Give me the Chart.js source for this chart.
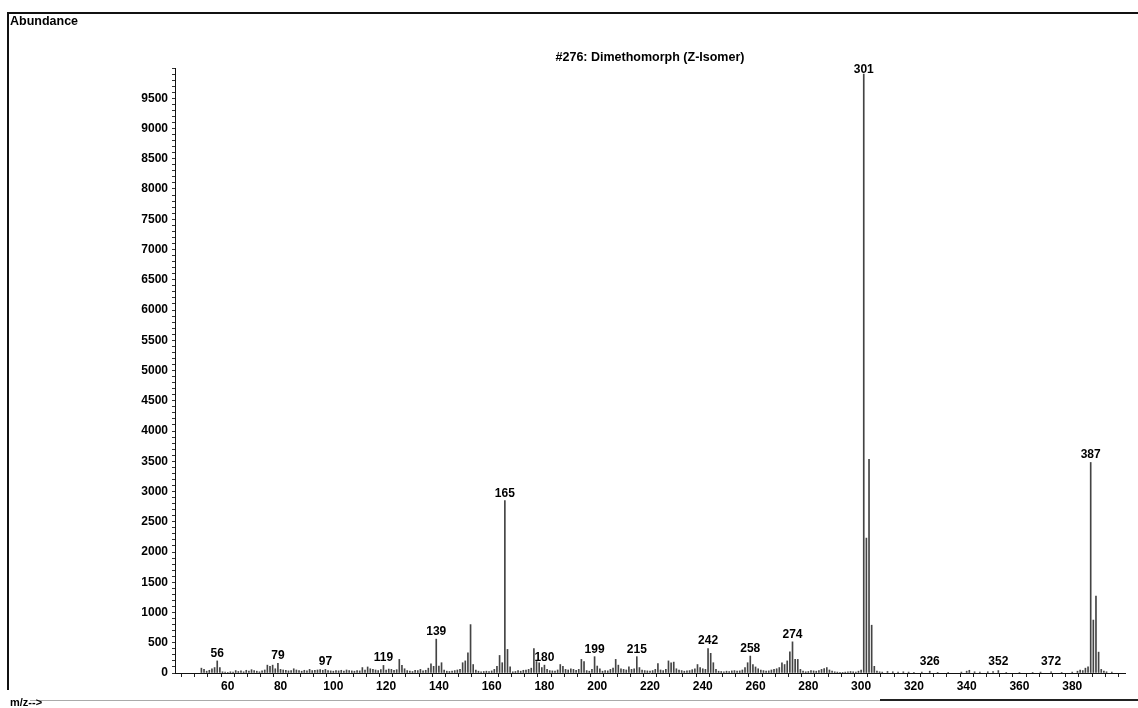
<!DOCTYPE html>
<html>
<head>
<meta charset="utf-8">
<script src="https://cdn.jsdelivr.net/npm/chart.js@4.4.1/dist/chart.umd.min.js"></script>
<style>
  html, body { margin: 0; padding: 0; background: #fff; }
  canvas { display: block; }
</style>
</head>
<body>
<canvas id="spectrum" width="1138" height="708"></canvas>
<script>
// m/z values and abundances
const mz = [
  50,51,52,53,54,55,56,57,58,59,
  60,61,62,63,64,65,66,67,68,69,
  70,71,72,73,74,75,76,77,78,79,
  80,81,82,83,84,85,86,87,88,89,
  90,91,92,93,94,95,96,97,98,99,
  100,101,102,103,104,105,106,107,108,109,
  110,111,112,113,114,115,116,117,118,119,
  120,121,122,123,124,125,126,127,128,129,
  130,131,132,133,134,135,136,137,138,139,
  140,141,142,143,144,145,146,147,148,149,
  150,151,152,153,154,155,156,157,158,159,
  160,161,162,163,164,165,166,167,168,169,
  170,171,172,173,174,175,176,177,178,179,
  180,181,182,183,184,185,186,187,188,189,
  190,191,192,193,194,195,196,197,198,199,
  200,201,202,203,204,205,206,207,208,209,
  210,211,212,213,214,215,216,217,218,219,
  220,221,222,223,224,225,226,227,228,229,
  230,231,232,233,234,235,236,237,238,239,
  240,241,242,243,244,245,246,247,248,249,
  250,251,252,253,254,255,256,257,258,259,
  260,261,262,263,264,265,266,267,268,269,
  270,271,272,273,274,275,276,277,278,279,
  280,281,282,283,284,285,286,287,288,289,
  290,291,292,293,294,295,296,297,298,299,
  300,301,302,303,304,305,306,
  307,308,310,312,314,316,318,320,323,326,
  329,333,338,340,341,343,345,348,350,352,
  355,360,365,368,372,376,380,382,383,384,
  385,386,387,388,389,390,391,392,393,395
];
const abundance = [
  80,60,30,45,70,90,200,90,20,15,
  10,20,15,40,25,35,20,45,30,55,
  40,30,20,35,50,130,110,130,70,160,
  60,50,45,35,40,70,50,40,30,45,
  35,60,40,45,50,55,45,60,40,35,
  30,40,35,45,30,50,40,35,30,40,
  35,90,50,100,70,60,50,40,55,125,
  50,65,60,45,55,225,125,70,40,30,
  25,45,40,60,35,45,80,150,110,560,
  115,170,50,30,25,30,40,50,60,170,
  200,335,800,140,50,30,20,25,30,25,
  35,60,110,290,170,2850,390,100,20,25,
  40,30,45,50,60,80,405,190,170,90,
  130,60,40,35,30,50,140,110,60,50,
  70,60,45,60,225,190,40,30,60,270,
  115,70,30,40,35,60,80,225,130,70,
  60,50,100,60,70,270,90,50,40,35,
  30,40,60,155,50,40,60,200,170,180,
  70,50,40,30,35,40,55,70,140,90,
  70,60,405,325,170,60,30,25,20,30,
  25,35,40,30,35,50,90,170,280,140,
  100,70,50,40,30,35,50,60,70,90,
  170,140,200,350,515,225,225,60,30,20,
  25,40,35,30,40,60,75,90,50,30,
  20,15,10,10,15,20,25,20,15,30,
  50,9900,2230,3530,790,110,30,
  20,15,25,20,15,20,15,10,15,30,
  10,10,15,30,45,20,15,20,25,40,
  10,10,10,15,20,10,15,30,50,40,
  80,100,3480,875,1270,345,60,30,20,15
];
const labelledPeaks = [56, 79, 97, 119, 139, 165, 180, 199, 215, 242, 258, 274, 301, 326, 352, 372, 387];

const titleText = '#276: Dimethomorph (Z-Isomer)';
const fontFamily = '"Liberation Sans", Arial, sans-serif';
const boldFont = 'bold 12px ' + fontFamily;

// frame, captions and peak labels
const decorations = {
  id: 'decorations',
  afterDraw(chart) {
    const { ctx, chartArea, scales } = chart;
    ctx.save();
    // page frame
    ctx.strokeStyle = '#111';
    ctx.lineWidth = 2;
    ctx.beginPath();
    ctx.moveTo(8, 690);
    ctx.lineTo(8, 13);
    ctx.lineTo(1138, 13);
    ctx.stroke();
    ctx.lineWidth = 1;
    ctx.strokeStyle = '#aaa';
    ctx.beginPath();
    ctx.moveTo(30, 700.5);
    ctx.lineTo(880, 700.5);
    ctx.stroke();
    ctx.strokeStyle = '#222';
    ctx.lineWidth = 2;
    ctx.beginPath();
    ctx.moveTo(880, 700);
    ctx.lineTo(1138, 700);
    ctx.stroke();

    ctx.fillStyle = '#000';
    ctx.font = 'bold 12.5px ' + fontFamily;
    ctx.textAlign = 'left';
    ctx.textBaseline = 'middle';
    ctx.fillText('Abundance', 10, 22);
    ctx.font = 'bold 11px ' + fontFamily;
    ctx.fillText('m/z-->', 10, 703);

    ctx.font = 'bold 12.5px ' + fontFamily;
    ctx.textAlign = 'center';
    ctx.fillText(titleText, (chartArea.left + chartArea.right) / 2, 58);

    ctx.font = boldFont;
    ctx.textBaseline = 'alphabetic';
    labelledPeaks.forEach(m => {
      const v = abundance[mz.indexOf(m)];
      const x = scales.x.getPixelForValue(m);
      const y = Math.min(scales.y.getPixelForValue(v) - 4, chartArea.bottom - 8);
      ctx.fillText(String(m), x, m === 301 ? y + 3 : y);
    });
    ctx.restore();
  }
};

const ctx = document.getElementById('spectrum').getContext('2d');
new Chart(ctx, {
  type: 'bar',
  data: {
    datasets: [{
      data: mz.map((m, i) => ({ x: m, y: abundance[i] })),
      backgroundColor: '#444',
      borderWidth: 0,
      barThickness: 1,
    }],
  },
  options: {
    responsive: false,
    animation: false,
    layout: { padding: { top: 68, right: 13, left: 0, bottom: 0 } },
    plugins: { legend: { display: false }, tooltip: { enabled: false } },
    scales: {
      x: {
        type: 'linear',
        min: 40,
        max: 400,
        offset: false,
        afterFit: s => { s.height = 35; },
        border: { display: true, color: '#111', width: 1 },
        grid: { drawOnChartArea: false, drawTicks: true, tickLength: 4, tickColor: '#222' },
        ticks: {
          stepSize: 5,
          autoSkip: false,
          maxRotation: 0,
          padding: 2,
          color: '#000',
          font: { family: fontFamily, size: 12, weight: 'bold' },
          callback: v => (v % 20 === 0 && v > 40 && v < 400) ? String(v) : '',
        },
      },
      y: {
        min: 0,
        max: 10000,
        afterFit: s => { s.width = 175; },
        border: { display: true, color: '#111', width: 1 },
        grid: { drawOnChartArea: false, drawTicks: true, tickLength: 3, tickColor: '#333' },
        ticks: {
          stepSize: 100,
          autoSkip: false,
          maxTicksLimit: 200,
          padding: 4,
          color: '#000',
          font: { family: fontFamily, size: 12, weight: 'bold' },
          callback: v => (v % 500 === 0 && v < 10000) ? String(v) : '',
        },
      },
    },
  },
  plugins: [decorations],
});
</script>
</body>
</html>
